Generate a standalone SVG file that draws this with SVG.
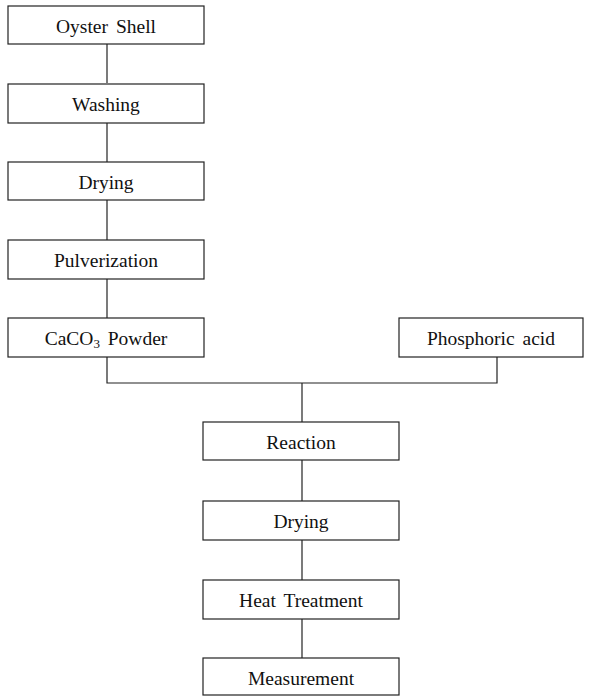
<svg xmlns="http://www.w3.org/2000/svg" width="591" height="697" viewBox="0 0 591 697">
<style>
.box{fill:#fff;stroke:#222;stroke-width:1.2}
.lbl{font-family:"Liberation Serif","Times New Roman",serif;font-size:19.5px;fill:#111;text-anchor:middle;word-spacing:3px}
.con{fill:none;stroke:#222;stroke-width:1.2}
</style>
<rect width="591" height="697" fill="#fff"/>
<g id="connectors">
<line class="con" x1="107" y1="44" x2="107" y2="83"/>
<line class="con" x1="107" y1="123" x2="107" y2="162"/>
<line class="con" x1="107" y1="200" x2="107" y2="240"/>
<line class="con" x1="107" y1="279" x2="107" y2="318"/>
<polyline class="con" points="107,357 107,383 497,383 497,357"/>
<line class="con" x1="302" y1="383" x2="302" y2="422"/>
<line class="con" x1="302" y1="460" x2="302" y2="501"/>
<line class="con" x1="302" y1="540" x2="302" y2="580"/>
<line class="con" x1="302" y1="619" x2="302" y2="658"/>
</g>
<g id="oyster"><rect class="box" x="8" y="6" width="196" height="38"/><text class="lbl" x="106" y="33">Oyster Shell</text></g>
<g id="washing"><rect class="box" x="8" y="84" width="196" height="39"/><text class="lbl" x="106" y="111">Washing</text></g>
<g id="drying1"><rect class="box" x="8" y="162" width="196" height="38"/><text class="lbl" x="106" y="189">Drying</text></g>
<g id="pulverization"><rect class="box" x="8" y="240" width="196" height="39"/><text class="lbl" x="106" y="267">Pulverization</text></g>
<g id="caco3"><rect class="box" x="8" y="318" width="196" height="39"/><text class="lbl" x="106" y="345">CaCO<tspan font-size="13" dy="3">3</tspan><tspan dy="-3"> Powder</tspan></text></g>
<g id="phosphoric"><rect class="box" x="399" y="318" width="184" height="39"/><text class="lbl" x="491" y="345">Phosphoric acid</text></g>
<g id="reaction"><rect class="box" x="203" y="422" width="196" height="38"/><text class="lbl" x="301" y="449">Reaction</text></g>
<g id="drying2"><rect class="box" x="203" y="501" width="196" height="39"/><text class="lbl" x="301" y="528">Drying</text></g>
<g id="heat"><rect class="box" x="203" y="580" width="196" height="39"/><text class="lbl" x="301" y="607">Heat Treatment</text></g>
<g id="measurement"><rect class="box" x="203" y="658" width="196" height="37"/><text class="lbl" x="301" y="685">Measurement</text></g>
</svg>
